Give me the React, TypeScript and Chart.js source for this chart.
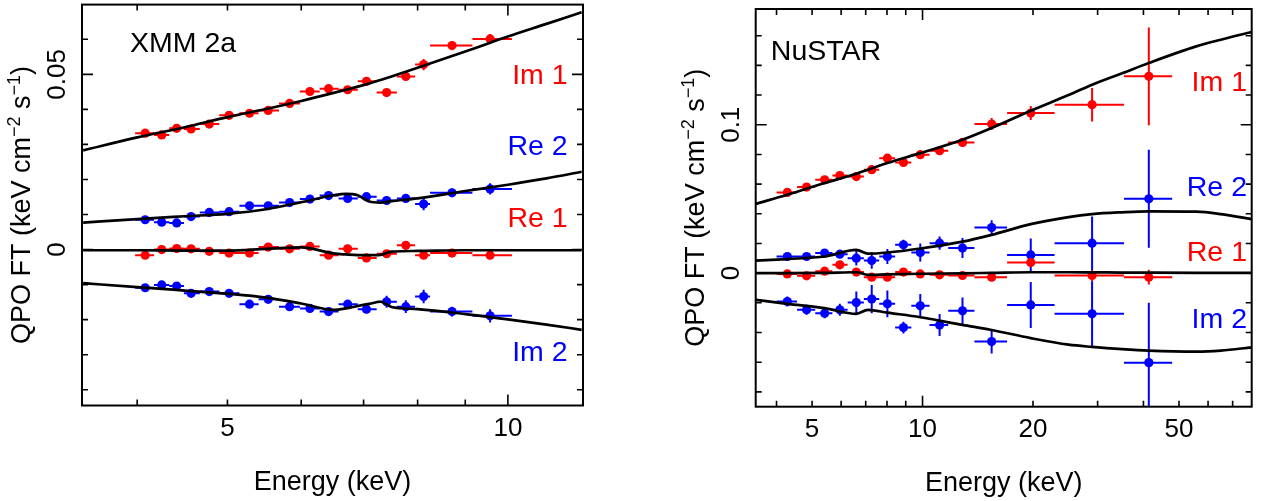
import React, { useEffect, useRef } from "react";
import { Chart, registerables } from "chart.js";
Chart.register(...registerables);

const FONT = '"Liberation Sans", Arial, Helvetica, sans-serif';
const RED = "#ff0000";
const BLUE = "#0000ff";

// ---------------- XMM 2a panel data ----------------
const xmmEnergy = [4.08, 4.25, 4.41, 4.57, 4.78, 5.02, 5.28, 5.53, 5.83, 6.13, 6.42, 6.73, 7.05, 7.41, 7.77, 8.12, 8.71, 9.57];
const xmmBinLo = [3.98, 4.17, 4.33, 4.49, 4.67, 4.9, 5.15, 5.4, 5.68, 5.98, 6.28, 6.58, 6.9, 7.23, 7.6, 7.95, 8.25, 9.16];
const xmmBinHi = [4.17, 4.33, 4.49, 4.67, 4.9, 5.15, 5.4, 5.68, 5.98, 6.28, 6.58, 6.9, 7.23, 7.6, 7.95, 8.25, 9.16, 10.1];
const xmmIm1 = [0.0332, 0.0327, 0.0346, 0.0344, 0.0358, 0.0383, 0.0389, 0.0397, 0.0417, 0.0451, 0.0459, 0.0456, 0.048, 0.0448, 0.0494, 0.0528, 0.0582, 0.0601];
const xmmIm1Err = [0.0008, 0.0008, 0.0008, 0.0008, 0.0008, 0.0009, 0.0009, 0.0009, 0.0009, 0.001, 0.001, 0.001, 0.001, 0.0011, 0.0011, 0.0016, 0.0012, 0.0014];
const xmmRe2 = [0.0085, 0.0078, 0.0076, 0.0094, 0.0106, 0.0108, 0.0125, 0.0125, 0.0134, 0.0144, 0.0154, 0.0146, 0.0151, 0.014, 0.0146, 0.013, 0.0162, 0.0173];
const xmmRe2Err = [0.0008, 0.0008, 0.0008, 0.0008, 0.0008, 0.0009, 0.0009, 0.0009, 0.0009, 0.0009, 0.001, 0.001, 0.001, 0.0011, 0.0012, 0.0018, 0.0012, 0.0016];
const xmmRe1 = [-0.0016, 0.0, 0.0003, 0.0002, -0.0005, -0.001, -0.001, 0.0007, 0.0002, 0.0009, -0.0016, 0.0002, -0.0024, -0.0012, 0.0012, -0.0016, -0.001, -0.0016];
const xmmRe1Err = [0.0008, 0.0008, 0.0008, 0.0008, 0.0008, 0.0009, 0.0009, 0.0009, 0.0009, 0.0009, 0.001, 0.001, 0.001, 0.0011, 0.0011, 0.0012, 0.0011, 0.0012];
const xmmIm2 = [-0.0109, -0.0101, -0.0104, -0.0125, -0.012, -0.0125, -0.0156, -0.0142, -0.0163, -0.0168, -0.0177, -0.0156, -0.017, -0.0149, -0.0163, -0.0134, -0.0177, -0.0189];
const xmmIm2Err = [0.001, 0.001, 0.001, 0.001, 0.001, 0.001, 0.001, 0.001, 0.0011, 0.0011, 0.0011, 0.0012, 0.0012, 0.0017, 0.0018, 0.0019, 0.0014, 0.0019];

const xmmModelE = [3.5, 4.0, 4.5, 5.0, 5.5, 6.0, 6.5, 6.7, 6.9, 7.1, 7.3, 7.5, 8.0, 9.0, 10.0, 11.0, 12.0];
const xmmModelIm1 = [0.0283, 0.032, 0.0349, 0.0378, 0.0401, 0.0424, 0.0447, 0.0456, 0.0465, 0.0474, 0.0484, 0.0494, 0.0519, 0.0565, 0.0608, 0.0644, 0.0677];
const xmmModelRe2 = [0.0077, 0.0087, 0.0095, 0.0102, 0.0115, 0.0135, 0.0155, 0.0159, 0.0155, 0.0137, 0.0134, 0.0138, 0.0146, 0.0167, 0.0185, 0.0203, 0.0222];
const xmmModelRe1 = [-0.0002, -0.0002, -0.0003, -0.0003, 0.0002, 0.0006, -0.0011, -0.0014, -0.0016, -0.0016, -0.0015, -0.0006, -0.0004, -0.0002, -0.0002, -0.0002, -0.0002];
const xmmModelIm2 = [-0.0096, -0.0107, -0.0117, -0.0126, -0.0137, -0.0154, -0.0172, -0.0168, -0.0161, -0.0155, -0.0149, -0.0164, -0.017, -0.0184, -0.0199, -0.0214, -0.0229];

const xmmXMinorTicks = [4, 5, 6, 7, 8, 9];
const xmmXMajorTicks = [10];
const xmmXTickLabels = ["5", "10"];
const xmmXTickLabelValues = [5, 10];
const xmmYMinorTicks = [-0.04, -0.03, -0.02, -0.01, 0.01, 0.02, 0.03, 0.04, 0.06];
const xmmYMajorTicks = [0, 0.05];
const xmmYTickLabels = ["0", "0.05"];

// ---------------- NuSTAR panel data ----------------
const nuEnergy = [4.28, 4.83, 5.41, 5.95, 6.6, 7.27, 8.02, 8.87, 9.86, 11.13, 12.85, 15.43, 19.72, 28.98, 41.37];
const nuBinLo = [4.0, 4.55, 5.1, 5.68, 6.25, 6.92, 7.62, 8.42, 9.32, 10.45, 11.75, 13.85, 17.0, 22.9, 35.4];
const nuBinHi = [4.55, 5.1, 5.68, 6.25, 6.92, 7.62, 8.42, 9.32, 10.45, 11.75, 13.85, 17.0, 22.9, 35.4, 47.9];
const nuIm1 = [0.0544, 0.058, 0.0629, 0.0658, 0.0651, 0.0697, 0.0775, 0.0746, 0.0798, 0.0825, 0.0881, 0.1005, 0.1079, 0.1135, 0.1326];
const nuIm1Err = [0.0015, 0.0015, 0.0015, 0.0015, 0.0022, 0.0018, 0.0025, 0.002, 0.0022, 0.002, 0.0028, 0.004, 0.0047, 0.0113, 0.033];
const nuRe2 = [0.0112, 0.0112, 0.0135, 0.0128, 0.0101, 0.0085, 0.0112, 0.0191, 0.0139, 0.0202, 0.0169, 0.0307, 0.0123, 0.0202, 0.0501];
const nuRe2Err = [0.002, 0.002, 0.002, 0.0025, 0.005, 0.0056, 0.005, 0.0034, 0.006, 0.0045, 0.0067, 0.005, 0.011, 0.018, 0.033];
const nuRe1 = [-0.0005, -0.0018, 0.0013, 0.0056, 0.0007, -0.0027, -0.0027, 0.0007, -0.0005, -0.0011, -0.0016, -0.0027, 0.0071, -0.0016, -0.0027];
const nuRe1Err = [0.0015, 0.0015, 0.0015, 0.002, 0.0015, 0.0018, 0.0018, 0.0015, 0.0015, 0.0015, 0.0015, 0.002, 0.0025, 0.004, 0.005];
const nuIm2 = [-0.0191, -0.0247, -0.027, -0.0247, -0.0198, -0.0175, -0.0207, -0.0367, -0.022, -0.0349, -0.0254, -0.0461, -0.0214, -0.0274, -0.0603];
const nuIm2Err = [0.0034, 0.0034, 0.0034, 0.004, 0.0075, 0.0095, 0.009, 0.004, 0.008, 0.0074, 0.009, 0.008, 0.0155, 0.022, 0.0403];

const nuModelE = [3.51, 4.28, 5.41, 6.6, 7.1, 8.02, 9.86, 12.85, 15.43, 19.72, 25, 28.98, 35, 41.37, 55.7, 65, 78.9];
const nuModelIm1 = [0.0467, 0.0528, 0.0607, 0.067, 0.0697, 0.0742, 0.0809, 0.0899, 0.0978, 0.1094, 0.12, 0.127, 0.1347, 0.1416, 0.1528, 0.1573, 0.1625];
const nuModelRe2 = [0.0084, 0.0095, 0.0112, 0.0157, 0.0131, 0.0139, 0.0166, 0.0212, 0.0258, 0.033, 0.0378, 0.0398, 0.041, 0.0416, 0.0414, 0.0398, 0.0364];
const nuModelRe1 = [0.0, 0.0, 0.0002, 0.0006, -0.0012, -0.0008, -0.0004, -0.0001, 0.0002, 0.0006, 0.0006, 0.0005, 0.0004, 0.0003, 0.0002, 0.0002, 0.0002];
const nuModelIm2 = [-0.018, -0.0207, -0.0236, -0.0274, -0.0247, -0.0266, -0.0297, -0.0349, -0.0383, -0.0438, -0.0482, -0.0497, -0.0512, -0.0522, -0.0529, -0.0522, -0.05];

const nuXMinorTicks = [4, 5, 6, 7, 8, 9, 20, 30, 40, 50, 60, 70];
const nuXMajorTicks = [10];
const nuXTickLabels = ["5", "10", "20", "50"];
const nuXTickLabelValues = [5, 10, 20, 50];
const nuYMinorTicks = [-0.08, -0.06, -0.04, -0.02, 0.02, 0.04, 0.06, 0.08, 0.12, 0.14, 0.16];
const nuYMajorTicks = [0, 0.1];
const nuYTickLabels = ["0", "0.1"];

// ---------------- helpers ----------------
function scatterSet(E: number[], lo: number[], hi: number[], v: number[], err: number[], color: string) {
  return {
    type: "scatter",
    data: E.map((e, i) => ({ x: e, y: v[i], xlo: lo[i], xhi: hi[i], yerr: err[i] })),
    backgroundColor: color,
    borderColor: color,
    pointRadius: 4.6,
    pointBorderWidth: 0,
    pointHoverRadius: 4.6,
    showLine: false,
    errorBars: true,
    order: 2,
  };
}

function modelSet(E: number[], v: number[]) {
  return {
    type: "line",
    data: E.map((e, i) => ({ x: e, y: v[i] })),
    borderColor: "#000000",
    borderWidth: 2.7,
    pointRadius: 0,
    fill: false,
    cubicInterpolationMode: "monotone",
    order: 1,
  };
}

const axesPlugin = {
  id: "pgAxes",
  beforeDatasetsDraw(chart: any) {
    const ctx = chart.ctx;
    const ca = chart.chartArea;
    const xs = chart.scales.x;
    const ys = chart.scales.y;
    ctx.save();
    ctx.beginPath();
    ctx.rect(ca.left, ca.top, ca.right - ca.left, ca.bottom - ca.top);
    ctx.clip();
    ctx.lineWidth = 2;
    chart.data.datasets.forEach((ds: any) => {
      if (!ds.errorBars) return;
      ctx.strokeStyle = ds.borderColor;
      ctx.beginPath();
      ds.data.forEach((p: any) => {
        const px = xs.getPixelForValue(p.x);
        const py = ys.getPixelForValue(p.y);
        ctx.moveTo(xs.getPixelForValue(p.xlo), py);
        ctx.lineTo(xs.getPixelForValue(p.xhi), py);
        ctx.moveTo(px, ys.getPixelForValue(p.y + p.yerr));
        ctx.lineTo(px, ys.getPixelForValue(p.y - p.yerr));
      });
      ctx.stroke();
    });
    ctx.restore();
  },
  afterDraw(chart: any) {
    const cfg = chart.options.plugins.pgAxes;
    const ctx = chart.ctx;
    const ca = chart.chartArea;
    const xs = chart.scales.x;
    const ys = chart.scales.y;
    ctx.save();
    // ticks
    ctx.strokeStyle = "#000";
    ctx.lineWidth = 1.6;
    ctx.beginPath();
    const xt = (vals: number[], len: number) =>
      vals.forEach((v) => {
        const px = xs.getPixelForValue(v);
        ctx.moveTo(px, ca.bottom);
        ctx.lineTo(px, ca.bottom - len);
        ctx.moveTo(px, ca.top);
        ctx.lineTo(px, ca.top + len);
      });
    const yt = (vals: number[], len: number) =>
      vals.forEach((v) => {
        const py = ys.getPixelForValue(v);
        ctx.moveTo(ca.left, py);
        ctx.lineTo(ca.left + len, py);
        ctx.moveTo(ca.right, py);
        ctx.lineTo(ca.right - len, py);
      });
    xt(cfg.xMinor, 6);
    xt(cfg.xMajor, 11);
    yt(cfg.yMinor, 6);
    yt(cfg.yMajor, 11);
    ctx.stroke();
    // frame
    ctx.lineWidth = 2;
    ctx.strokeRect(ca.left, ca.top, ca.right - ca.left, ca.bottom - ca.top);

    ctx.fillStyle = "#000";
    // x tick labels
    ctx.font = `26px ${FONT}`;
    ctx.textAlign = "center";
    ctx.textBaseline = "alphabetic";
    cfg.xLabelValues.forEach((v: number, i: number) => {
      ctx.fillText(cfg.xLabels[i], xs.getPixelForValue(v), ca.bottom + 30);
    });
    // y tick labels (rotated)
    cfg.yMajor.forEach((v: number, i: number) => {
      ctx.save();
      ctx.translate(ca.left - 17, ys.getPixelForValue(v));
      ctx.rotate(-Math.PI / 2);
      ctx.fillText(cfg.yLabels[i], 0, 0);
      ctx.restore();
    });
    // x title
    ctx.font = `27px ${FONT}`;
    ctx.fillText("Energy (keV)", (ca.left + ca.right) / 2, ca.bottom + 84);
    // y title with superscripts
    const parts = [
      { t: "QPO FT (keV cm", s: false },
      { t: "\u22122", s: true },
      { t: " s", s: false },
      { t: "\u22121", s: true },
      { t: ")", s: false },
    ];
    const fontFor = (s: boolean) => (s ? `18px ${FONT}` : `27px ${FONT}`);
    let total = 0;
    parts.forEach((p) => {
      ctx.font = fontFor(p.s);
      total += ctx.measureText(p.t).width;
    });
    ctx.save();
    ctx.translate(ca.left - 52, (ca.top + ca.bottom) / 2);
    ctx.rotate(-Math.PI / 2);
    ctx.textAlign = "left";
    let cx = -total / 2;
    parts.forEach((p) => {
      ctx.font = fontFor(p.s);
      ctx.fillText(p.t, cx, p.s ? -10 : 0);
      cx += ctx.measureText(p.t).width;
    });
    ctx.restore();
    // annotations
    ctx.font = `28.5px ${FONT}`;
    ctx.textBaseline = "middle";
    cfg.notes.forEach((n: any) => {
      ctx.fillStyle = n.color;
      ctx.textAlign = n.align;
      ctx.fillText(n.text, xs.getPixelForValue(n.x), ys.getPixelForValue(n.y));
    });
    ctx.restore();
  },
};

type PanelProps = {
  width: number;
  left: number;
  padding: { left: number; right: number; top: number; bottom: number };
  xMin: number;
  xMax: number;
  yMin: number;
  yMax: number;
  datasets: any[];
  axes: any;
};

function Panel(props: PanelProps) {
  const ref = useRef<HTMLCanvasElement | null>(null);
  useEffect(() => {
    if (!ref.current) return;
    const chart = new Chart(ref.current, {
      type: "scatter",
      data: { datasets: props.datasets },
      options: {
        animation: false,
        responsive: false,
        maintainAspectRatio: false,
        events: [],
        layout: { padding: props.padding },
        scales: {
          x: { type: "logarithmic", min: props.xMin, max: props.xMax, display: false },
          y: { type: "linear", min: props.yMin, max: props.yMax, display: false },
        },
        plugins: {
          legend: { display: false },
          tooltip: { enabled: false },
          pgAxes: props.axes,
        },
      } as any,
      plugins: [axesPlugin],
    } as any);
    return () => chart.destroy();
  }, []);
  return (
    <canvas
      ref={ref}
      width={props.width}
      height={501}
      style={{ position: "absolute", left: props.left, top: 0, width: props.width, height: 501 }}
    />
  );
}

export default function App() {
  const xmmDatasets = [
    scatterSet(xmmEnergy, xmmBinLo, xmmBinHi, xmmIm1, xmmIm1Err, RED),
    scatterSet(xmmEnergy, xmmBinLo, xmmBinHi, xmmRe2, xmmRe2Err, BLUE),
    scatterSet(xmmEnergy, xmmBinLo, xmmBinHi, xmmRe1, xmmRe1Err, RED),
    scatterSet(xmmEnergy, xmmBinLo, xmmBinHi, xmmIm2, xmmIm2Err, BLUE),
    modelSet(xmmModelE, xmmModelIm1),
    modelSet(xmmModelE, xmmModelRe2),
    modelSet(xmmModelE, xmmModelRe1),
    modelSet(xmmModelE, xmmModelIm2),
  ];
  const nuDatasets = [
    scatterSet(nuEnergy, nuBinLo, nuBinHi, nuIm1, nuIm1Err, RED),
    scatterSet(nuEnergy, nuBinLo, nuBinHi, nuRe1, nuRe1Err, RED),
    scatterSet(nuEnergy, nuBinLo, nuBinHi, nuRe2, nuRe2Err, BLUE),
    scatterSet(nuEnergy, nuBinLo, nuBinHi, nuIm2, nuIm2Err, BLUE),
    modelSet(nuModelE, nuModelIm1),
    modelSet(nuModelE, nuModelRe2),
    modelSet(nuModelE, nuModelRe1),
    modelSet(nuModelE, nuModelIm2),
  ];
  const xmmAxes = {
    xMinor: xmmXMinorTicks,
    xMajor: xmmXMajorTicks,
    xLabels: xmmXTickLabels,
    xLabelValues: xmmXTickLabelValues,
    yMinor: xmmYMinorTicks,
    yMajor: xmmYMajorTicks,
    yLabels: xmmYTickLabels,
    notes: [
      { text: "XMM 2a", x: 3.93, y: 0.0585, color: "#000000", align: "left" },
      { text: "Im 1", x: 11.59, y: 0.0494, color: RED, align: "right" },
      { text: "Re 2", x: 11.59, y: 0.0291, color: BLUE, align: "right" },
      { text: "Re 1", x: 11.59, y: 0.0086, color: RED, align: "right" },
      { text: "Im 2", x: 11.59, y: -0.0297, color: BLUE, align: "right" },
    ],
  };
  const nuAxes = {
    xMinor: nuXMinorTicks,
    xMajor: nuXMajorTicks,
    xLabels: nuXTickLabels,
    xLabelValues: nuXTickLabelValues,
    yMinor: nuYMinorTicks,
    yMajor: nuYMajorTicks,
    yLabels: nuYTickLabels,
    notes: [
      { text: "NuSTAR", x: 3.86, y: 0.1486, color: "#000000", align: "left" },
      { text: "Im 1", x: 76.6, y: 0.1283, color: RED, align: "right" },
      { text: "Re 2", x: 76.6, y: 0.0575, color: BLUE, align: "right" },
      { text: "Re 1", x: 76.6, y: 0.0137, color: RED, align: "right" },
      { text: "Im 2", x: 76.6, y: -0.0315, color: BLUE, align: "right" },
    ],
  };
  return (
    <div style={{ position: "absolute", left: 0, top: 0, width: 1263, height: 501, background: "#ffffff", overflow: "hidden" }}>
      <Panel
        width={630}
        left={0}
        padding={{ left: 82, right: 47, top: 2, bottom: 95.5 }}
        xMin={3.49}
        xMax={12.04}
        yMin={-0.0445}
        yMax={0.0699}
        datasets={xmmDatasets}
        axes={xmmAxes}
      />
      <Panel
        width={633}
        left={630}
        padding={{ left: 125.7, right: 11.3, top: 9, bottom: 94.3 }}
        xMin={3.51}
        xMax={78.9}
        yMin={-0.09}
        yMax={0.178}
        datasets={nuDatasets}
        axes={nuAxes}
      />
    </div>
  );
}
